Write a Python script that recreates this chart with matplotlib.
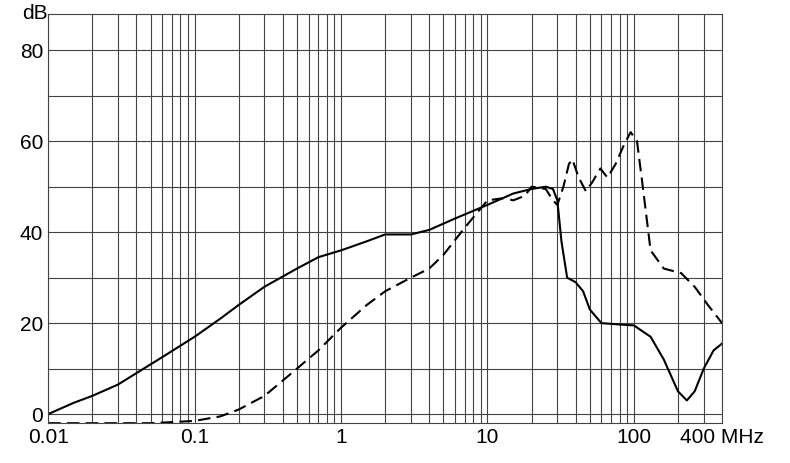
import matplotlib
matplotlib.use("Agg")
import matplotlib.pyplot as plt
from matplotlib.ticker import FixedLocator, NullFormatter

plt.rcParams['font.family'] = ['Liberation Sans', 'DejaVu Sans']

solid_f = [0.01,0.015,0.02,0.03,0.04,0.06,0.1,0.15,0.2,0.3,0.5,0.7,1,1.5,2,3,4,6,10,15,20,25,28,30,32,35,40,45,50,60,80,100,130,160,200,230,260,300,350,400]
solid_db = [0,2.5,4,6.5,9,12.5,17,21,24,28,32,34.5,36,38,39.5,39.5,40.5,43,46,48.5,49.5,50,49.5,47,38,30,29,27,23,20,19.7,19.5,17,12,5,3,5,10,14,15.5]
dash_f = [0.01,0.03,0.05,0.1,0.15,0.2,0.3,0.5,0.7,1,1.5,2,3,4,5,7,10,13,15,18,20,25,28,30,33,36,38,42,47,52,59,66,75,85,95,105,115,130,160,210,260,320,400]
dash_db = [-2,-2,-2,-1.5,-0.5,1,4,10,14,19,24,27,30,32,35,41,47,47.5,47,48,50,49.5,47,46,50,55,56,52,49,51,54,52,55,59,62,60,50,36,32,31,28,24,20]

fig = plt.figure(figsize=(7.9,4.63), dpi=100)
ax = fig.add_axes([0.061,0.086,0.853,0.884])
ax.set_xscale('log')
ax.set_xlim(0.01,400)
ax.set_ylim(-2,88)
ax.plot(solid_f, solid_db, color='black', lw=1.5)
ax.plot(dash_f, dash_db, color='black', lw=1.5, ls=(0,(6,3)))
minor = [m*10.0**e for e in range(-2,3) for m in range(2,10) if m*10.0**e<400]
ax.xaxis.set_minor_locator(FixedLocator(minor))
ax.xaxis.set_minor_formatter(NullFormatter())
ax.set_xticks([0.01,0.1,1,10,100,400])
ax.set_xticklabels(['0.01','0.1','1','10','100','400 MHz'])
ax.set_yticks([0,10,20,30,40,50,60,70,80])
ax.set_yticklabels(['0','','20','','40','','60','','80'])
ax.grid(True, which='both', color='#444444', lw=0.8)
ax.tick_params(which='both', length=0, labelsize=15)
for s in ax.spines.values():
    s.set_color('#444444')
fig.text(0.028,0.97,'dB',fontsize=15,va='center')
fig.savefig('out.png')
